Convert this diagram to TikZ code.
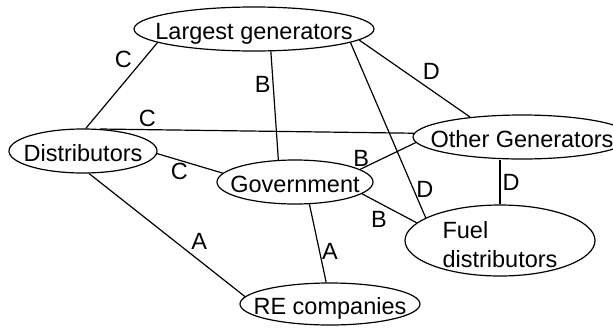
\documentclass[tikz,border=0pt]{standalone}
\usepackage{fontspec}
\setmainfont{Liberation Sans}
\usetikzlibrary{calc,shapes.geometric}
\def\inside#1{\makebox[0pt]{#1}}

\tikzset{
	actor/.style={ellipse, draw, line width=1.2pt, inner sep=0pt, text height=21pt, text depth=0pt, minimum height=44pt},
	tie/.style={line width=1.2pt},
	tag/.style={inner sep=2pt}
}

\begin{document}
\begin{tikzpicture}[x=1pt, y=-1pt, font=\fontsize{23.5}{29}\selectfont]
		%%%%% START %%%%%
		
		\useasboundingbox (0, 0) rectangle (613, 327);
		
		\node[actor, minimum width=240pt] (largest) at (254, 29) {\inside{Largest generators}};
		\node[actor, minimum width=148pt] (distrib) at (83, 151) {\inside{Distributors}};
		\node[actor, minimum width=156pt] (gov) at (295, 182) {\inside{Government}};
		\node[actor, minimum width=218pt] (other) at (522, 137) {\inside{Other Generators}};
		\node[actor, minimum width=190pt, minimum height=71pt, text height=10pt, text depth=15pt] (fuel) at (500, 240.5)
			{\inside{\begin{tabular}[t]{@{}l@{}}Fuel\\distributors\end{tabular}}};
		\node[actor, minimum width=180pt, minimum height=42pt] (re) at (330, 304) {\inside{RE companies}};
		
		\draw[tie] (largest.188) -- node[tag, pos=0.32, above left] (c1) {C} (distrib.83);
		\draw[tie] (largest.-53) -- node[tag, pos=0.3, left] (b1) {B} (gov.127);
		\draw[tie] (largest.-6) -- node[tag, pos=0.55, above right] (d1) {D} (other.159);
		\draw[tie] (largest.-8) -- node[tag, pos=0.84, right] (d2) {D} (fuel.163);
		
		\draw[tie] (distrib.52) -- node[tag, pos=0.15, above] (c2) {C} (other.178);
		\draw[tie] (distrib.-2) -- node[tag, pos=0.34, below] (c3) {C} (gov.173);
		\draw[tie] (distrib.-75) -- node[tag, pos=0.64, above right] (a1) {A} (re.175);
		
		\draw[tie] (gov.11) -- node[tag, pos=0.02, above] (b2) {B} (other.-177);
		\draw[tie] (gov.-10) -- node[tag, pos=0.5, below left] (b3) {B} (fuel.168);
		\draw[tie] (gov.-57) -- node[tag, pos=0.6, right] (a2) {A} (re.100);
		
		\draw[tie] (fuel.north) -- node[tag, pos=0.5, right] (d3) {D} (fuel.north |- other.south);
		
		%%%%% END %%%%%
	\end{tikzpicture}
\end{document}
